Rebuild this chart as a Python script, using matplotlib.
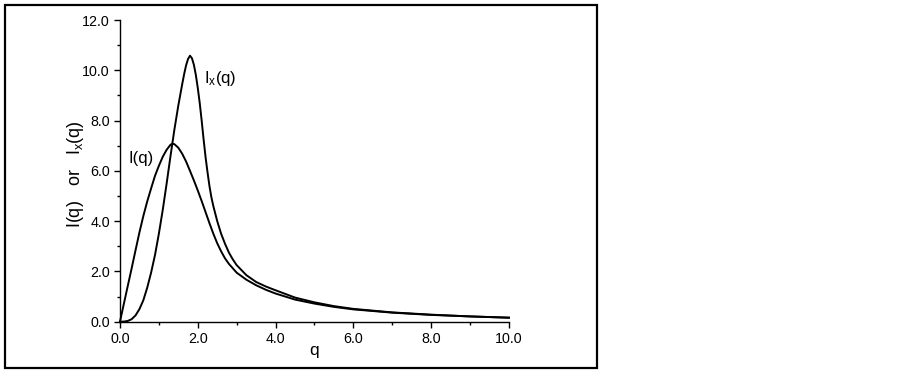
# Dos curvas I(q) e Ix(q)
import numpy as np
import matplotlib
matplotlib.use("Agg")
import matplotlib.pyplot as plt
from matplotlib.patches import Rectangle
from matplotlib.ticker import MultipleLocator, FormatStrFormatter

plt.rcParams["font.family"] = ["Liberation Sans", "DejaVu Sans"]
plt.rcParams["mathtext.fontset"] = "custom"
plt.rcParams["mathtext.rm"] = "Liberation Sans"
plt.rcParams["mathtext.it"] = "Liberation Sans"
plt.rcParams["mathtext.default"] = "regular"

# Valores
q_I = [0.0, 0.1, 0.2, 0.3, 0.4, 0.5, 0.6, 0.7, 0.8, 0.9, 1.0, 1.1, 1.2, 1.3,
       1.35, 1.4, 1.5, 1.6, 1.7, 1.8, 1.9, 2.0, 2.1, 2.2, 2.3, 2.4, 2.5, 2.6,
       2.7, 2.8, 3.0, 3.25, 3.5, 3.75, 4.0, 4.5, 5.0, 5.5, 6.0, 7.0, 8.0, 9.0, 10.0]
I_q = [0.0, 0.71, 1.42, 2.12, 2.84, 3.55, 4.2, 4.78, 5.3, 5.8, 6.2, 6.56, 6.84, 7.04,
       7.08, 7.06, 6.92, 6.68, 6.37, 6.0, 5.62, 5.22, 4.8, 4.36, 3.92, 3.5, 3.12, 2.8,
       2.52, 2.3, 1.95, 1.67, 1.45, 1.27, 1.12, 0.88, 0.72, 0.59, 0.49, 0.36, 0.27, 0.21, 0.16]

q_Ix = [0.0, 0.1, 0.2, 0.3, 0.4, 0.5, 0.6, 0.7, 0.8, 0.9, 1.0, 1.1, 1.2, 1.3,
        1.4, 1.5, 1.6, 1.65, 1.7, 1.75, 1.8, 1.85, 1.9, 1.95, 2.0, 2.05, 2.1,
        2.15, 2.2, 2.25, 2.3, 2.35, 2.4, 2.5, 2.6, 2.7, 2.8, 2.9, 3.0, 3.25,
        3.5, 3.75, 4.0, 4.5, 5.0, 5.5, 6.0, 7.0, 8.0, 9.0, 10.0]
Ix_q = [0.0, 0.005, 0.03, 0.1, 0.25, 0.5, 0.85, 1.35, 1.95, 2.65, 3.5, 4.45, 5.5, 6.6,
        7.65, 8.6, 9.45, 9.85, 10.2, 10.45, 10.58, 10.48, 10.22, 9.82, 9.3, 8.7, 8.0,
        7.25, 6.55, 5.95, 5.4, 4.95, 4.6, 4.0, 3.5, 3.1, 2.75, 2.48, 2.25, 1.85,
        1.58, 1.4, 1.25, 0.96, 0.77, 0.62, 0.51, 0.37, 0.28, 0.21, 0.16]

fig = plt.figure(figsize=(9.02, 3.72), dpi=100)
ax = fig.add_axes([0.1330, 0.1352, 0.4313, 0.8110])

ax.plot(q_I, I_q, color="black", lw=1.4, clip_on=False)
ax.plot(q_Ix, Ix_q, color="black", lw=1.4, clip_on=False)

# Ejes
ax.set_xlim(0, 10)
ax.set_ylim(0, 12)
ax.xaxis.set_major_locator(MultipleLocator(2))
ax.xaxis.set_minor_locator(MultipleLocator(1))
ax.yaxis.set_major_locator(MultipleLocator(2))
ax.yaxis.set_minor_locator(MultipleLocator(1))
ax.xaxis.set_major_formatter(FormatStrFormatter("%.1f"))
ax.yaxis.set_major_formatter(FormatStrFormatter("%.1f"))
ax.tick_params(which="major", direction="out", length=4.3, width=1, pad=2.9, labelsize=10.3)
ax.tick_params(which="minor", direction="out", length=2.2, width=1)
for s in ["top", "right"]:
    ax.spines[s].set_visible(False)
for s in ["left", "bottom"]:
    ax.spines[s].set_linewidth(1)

# Etiquetas
ax.text(0.21, 6.3, "I(q)", fontsize=12, ha="left", va="baseline")
ax.text(2.16, 9.5, "I$_x$(q)", fontsize=12, ha="left", va="baseline")
fig.text(75 / 902, 1 - 174 / 372, "I(q)   or   I$_x$(q)", fontsize=13,
         rotation=90, ha="center", va="center")
fig.text(314 / 902, 1 - 351 / 372, "q", fontsize=12.5, ha="center", va="center")

# Marco exterior
fig.patches.append(Rectangle((5 / 902, 1 - 368 / 372), 592 / 902, 363 / 372,
                             transform=fig.transFigure, fill=False,
                             edgecolor="black", lw=1.6))

fig.savefig("out.png", dpi=100)
